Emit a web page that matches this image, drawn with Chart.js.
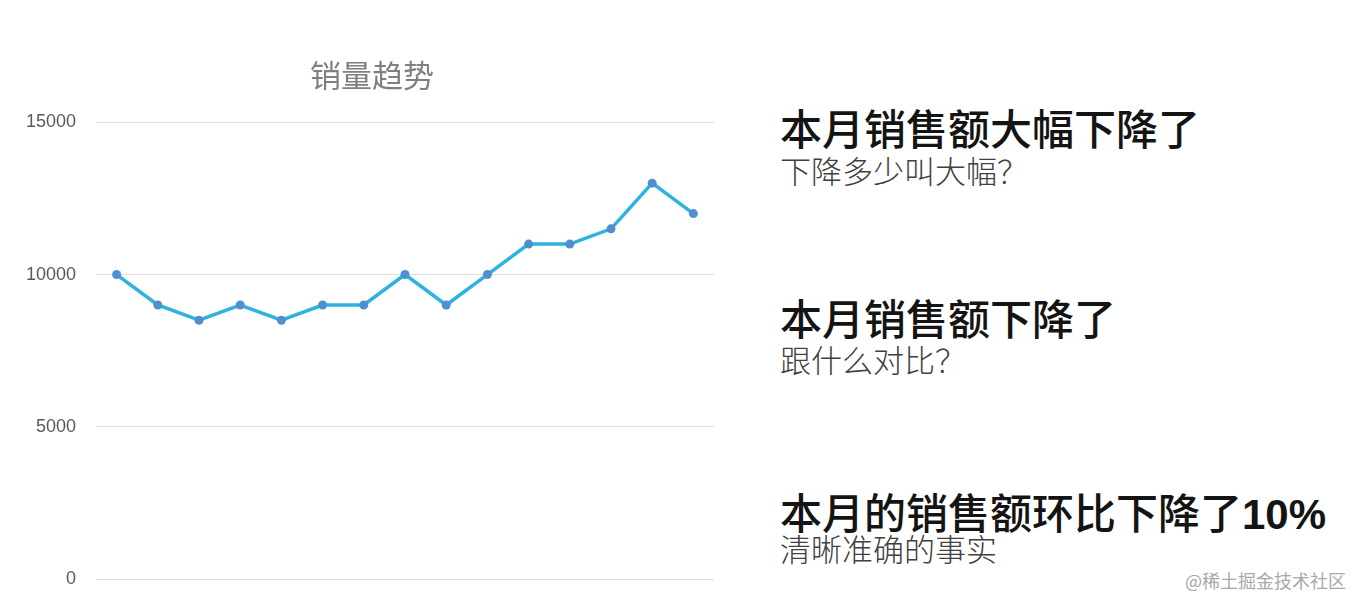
<!DOCTYPE html>
<html>
<head>
<meta charset="utf-8">
<script src="https://cdn.jsdelivr.net/npm/chart.js@4"></script>
<style>
  html, body { margin:0; padding:0; background:#fff; width:1364px; height:610px; overflow:hidden; }
  #wrap { position:absolute; left:0; top:0; width:744px; height:610px; }
  .t { position:absolute; left:780px; white-space:nowrap; font-family:"Noto Sans CJK SC", sans-serif; line-height:1; }
  .h { font-size:42px; font-weight:500; color:#141414; }
  .s { font-size:31px; font-weight:300; color:#404040; }
  .pct { font-family:"Liberation Sans", Arial, sans-serif; font-weight:700; }
  #wm { position:absolute; left:1185px; top:571px; font-family:"Noto Sans CJK SC", sans-serif; font-size:18px; color:#a8a8a8; white-space:nowrap; line-height:1; }
</style>
</head>
<body>
<div id="wrap"><canvas id="c"></canvas></div>
<div class="t h" style="top:106px">本月销售额大幅下降了</div>
<div class="t s" style="top:154px">下降多少叫大幅？</div>
<div class="t h" style="top:296px">本月销售额下降了</div>
<div class="t s" style="top:343px">跟什么对比？</div>
<div class="t h" style="top:490px">本月的销售额环比下降了<span class="pct">10%</span></div>
<div class="t s" style="top:532px">清晰准确的事实</div>
<div id="wm">@稀土掘金技术社区</div>
<script>
const categories = ["1","2","3","4","5","6","7","8","9","10","11","12","13","14","15"];
const sales = [10000, 9000, 8500, 9000, 8500, 9000, 9000, 10000, 9000, 10000, 11000, 11000, 11500, 13000, 12000];
const yTicks = [0, 5000, 10000, 15000];
const chartTitle = "销量趋势";

new Chart(document.getElementById('c'), {
  type: 'line',
  data: {
    labels: categories,
    datasets: [{
      label: '销量',
      data: sales,
      borderColor: '#2eb2e0',
      borderWidth: 3.5,
      pointBackgroundColor: '#4f8fd0',
      pointBorderColor: '#4f8fd0',
      pointRadius: 4.5,
      pointBorderWidth: 0,
      tension: 0,
      fill: false
    }]
  },
  options: {
    responsive: true,
    maintainAspectRatio: false,
    animation: false,
    layout: { padding: { top: 0, left: 0, right: 0, bottom: 27 } },
    plugins: {
      legend: { display: false },
      tooltip: { enabled: false },
      title: {
        display: true,
        text: chartTitle,
        color: '#808080',
        font: { family: '"Noto Sans CJK SC", sans-serif', size: 31, weight: 'normal', lineHeight: 1.2 },
        padding: { top: 57, bottom: 28 }
      }
    },
    scales: {
      x: { type: 'category', offset: true, display: false, grid: { display: false } },
      y: {
        min: 0, max: 15000,
        afterBuildTicks: (s) => { s.ticks = yTicks.map(v => ({ value: v })); },
        afterFit: (s) => { s.width = 96; },
        border: { display: false },
        grid: { color: '#dedede', lineWidth: 1, drawTicks: false },
        ticks: {
          padding: 20,
          color: '#595959',
          font: { family: '"Liberation Sans", Arial, sans-serif', size: 18 },
          callback: (v) => String(v)
        }
      },
      yRight: {
        position: 'right',
        min: 0, max: 15000,
        afterFit: (s) => { s.width = 30; },
        border: { display: false },
        grid: { display: false, drawTicks: false },
        ticks: { display: false }
      }
    }
  }
});
</script>
</body>
</html>
